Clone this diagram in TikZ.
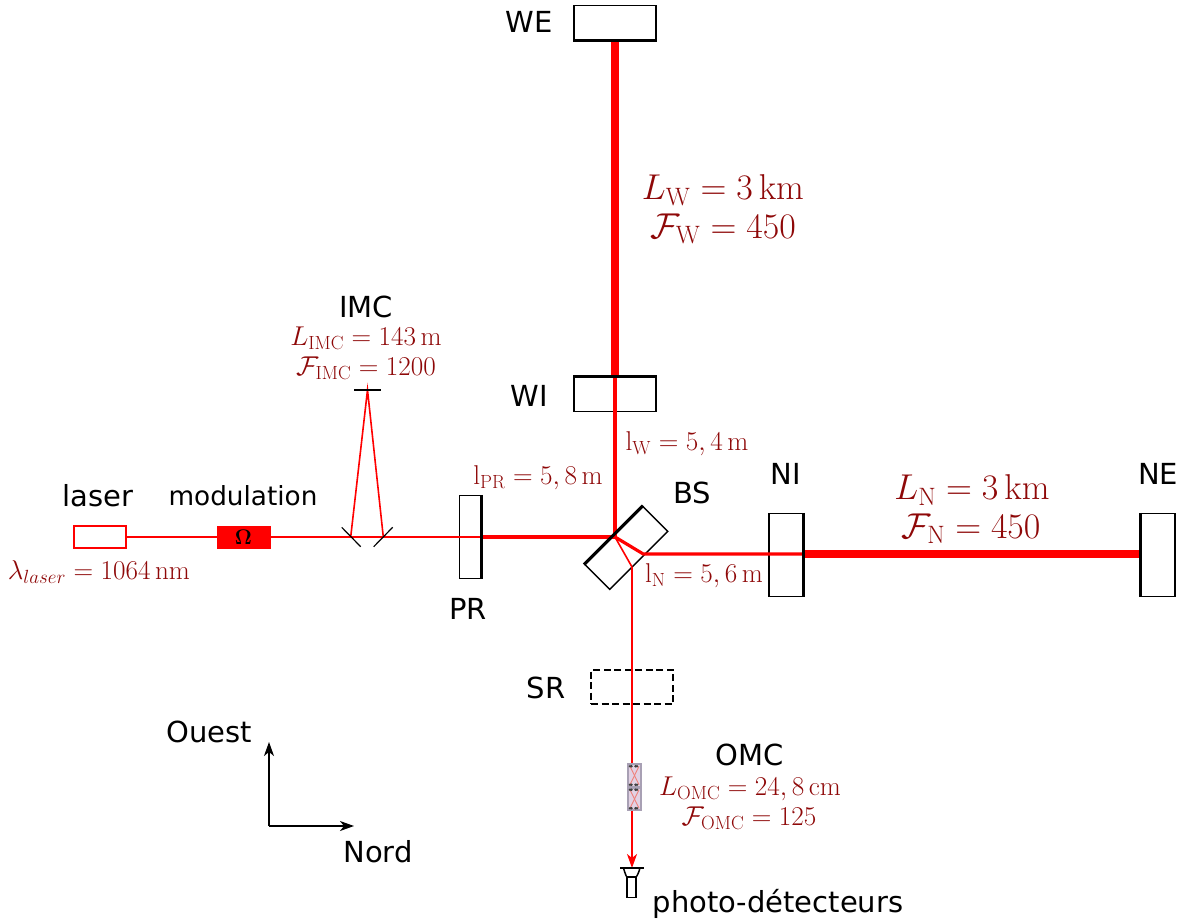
\RequirePackage{fix-cm}
\documentclass[tikz,border=0pt]{standalone}
\usepackage[no-math]{fontspec}
\usetikzlibrary{arrows.meta,calc}
\newfontfamily\djv{DejaVu Sans}
\definecolor{lab}{HTML}{8E0808}
\definecolor{omcedge}{HTML}{A8A0B4}
\definecolor{omcfill}{HTML}{E2D2E4}
\definecolor{omcx}{HTML}{F0807A}
\newcommand{\fsz}[1]{\fontsize{#1}{#1}\selectfont}
\tikzset{
  mirror/.style={draw=black,line width=1.5pt,fill=none,inner sep=0pt,minimum width=#1},
  thickside/.style={draw=black,line width=3pt},
  beamthin/.style={draw=red,line width=1.6pt},
  beammid/.style={draw=red,line width=4pt},
  beamfat/.style={draw=red,line width=7.5pt},
  sanslab/.style={font=\djv\fsz{29},text=black,inner sep=0pt},
  smallmath/.style={font=\fsz{27.2},text=lab,inner sep=0pt},
  bigmath/.style={font=\fsz{35.9},text=lab,inner sep=0pt},
  compass/.style={draw=black,line width=1.5pt,-{Stealth[length=14pt,width=10pt,inset=4pt]}},
  tinybox/.style={draw=omcedge,line width=2pt,fill=omcfill,inner sep=0pt,minimum width=13pt},
}
\begin{document}
\begin{tikzpicture}[x=1pt,y=-1pt]
\useasboundingbox (0,0) rectangle (1187,924);
% components
\node[mirror=82pt,minimum height=34pt] (we) at (615,22.5) {};
\node[mirror=82pt,minimum height=34pt] (wi) at (615,394.5) {};
\node[mirror=21pt,minimum height=83pt] (pr) at (470,537) {};
\node[mirror=34pt,minimum height=83pt] (ni) at (786,555) {};
\node[mirror=34pt,minimum height=83pt] (ne) at (1158,555) {};
\node[mirror=82pt,minimum height=35pt,rotate=45] (bs) at (626.4,548) {};
\node[draw=red,line width=1.5pt,inner sep=0pt,minimum width=52pt,minimum height=22pt] (las) at (100,537) {};
\node[fill=red,draw=red,line width=0.5pt,inner sep=0pt,minimum width=53pt,minimum height=22pt,font=\fsz{21}] (mod) at (243.5,537) {$\mathbf{\Omega}$};
\node[draw=black,dash pattern=on 7pt off 3.5pt,line width=1.3pt,inner sep=0pt,minimum width=82pt,minimum height=34pt] (sr) at (632,687) {};
% free points
\coordinate (hit) at (615,537);
\coordinate (ex1) at (643.3,554);
\coordinate (ex2) at (632,567);
\coordinate (m1) at (350.7,537);
\coordinate (m2) at (383.3,537);
\coordinate (mtop) at (367.5,390);
\coordinate (detin) at (632,868);
% beams
\draw[beamthin] (las.east) -- (mod.west);
\draw[beamthin] (mod.east) -- (pr.east);
\draw[beamthin] (m1) -- (mtop) -- (m2);
\draw[beammid] (pr.east) -- (hit);
\draw[draw=red,line width=3.2pt] (wi.north) -- (hit);
\draw[beamfat] (we.south) -- (wi.north);
\draw[draw=red,line width=3.2pt] (hit) -- (ex1) -- (ni.east |- ex1);
\draw[beamfat] (ni.east |- ex1) -- (ne.west |- ex1);
\draw[beamthin] (hit) -- (ex2);
\draw[beamthin,-{Stealth[length=14pt,width=10pt,inset=4pt]}] (ex2) -- (detin);
% mirror coatings
\draw[thickside] (we.south west) -- (we.south east);
\draw[thickside] (wi.north west) -- (wi.north east);
\draw[thickside] (pr.north east) -- (pr.south east);
\draw[thickside] (ni.north east) -- (ni.south east);
\draw[thickside] (ne.north west) -- (ne.south west);
\draw[thickside] (bs.north west) -- (bs.north east);
% IMC mirrors
\coordinate (ma1) at (341.7,527.3); \coordinate (ma2) at (360.7,546.7);
\coordinate (mb1) at (392.7,527.3); \coordinate (mb2) at (373.7,546.7);
\coordinate (mc1) at (354,390); \coordinate (mc2) at (381,390);
\draw[black,line width=1.2pt] (ma1) -- (ma2);
\draw[black,line width=1.2pt] (mb1) -- (mb2);
\draw[black,line width=1.2pt] (mc1) -- (mc2);
% OMC
\node[tinybox,minimum height=22.5pt] (omca) at (634.5,775.5) {};
\node[tinybox,minimum height=22.5pt] (omcb) at (634.5,799) {};
\draw[omcx,line width=0.9pt] ($(omca.north west)+(3,3)$) -- ($(omca.south east)+(-3,-3)$);
\draw[omcx,line width=0.9pt] ($(omca.north east)+(-3,3)$) -- ($(omca.south west)+(3,-3)$);
\draw[omcx,line width=0.9pt] ($(omcb.north west)+(3,3)$) -- ($(omcb.south east)+(-3,-3)$);
\draw[omcx,line width=0.9pt] ($(omcb.north east)+(-3,3)$) -- ($(omcb.south west)+(3,-3)$);
\foreach \n in {omca,omcb}{
  \foreach \dx in {3,4.5,8.5,10}{
    \fill[black!75] ($(\n.north west)+(\dx,3)$) circle [radius=1.4pt];
    \fill[black!75] ($(\n.south west)+(\dx,-3)$) circle [radius=1.4pt];
  }
}
% detector
\node[draw=black,line width=1.5pt,fill=white,inner sep=0pt,minimum width=9pt,minimum height=20pt] (det) at (631.5,887.5) {};
\coordinate (da) at (620,868); \coordinate (db) at (644,868);
\draw[black,line width=1.5pt] (da) -- (db);
\draw[black,line width=1.5pt] (623.5,868) .. controls (625,874) and (627,877) .. (det.north west);
\draw[black,line width=1.5pt] (640,868) .. controls (638.5,874) and (636,877) .. (det.north east);
\draw[black,line width=1.5pt] (det.north west) -- (det.north east);
% compass
\coordinate (co) at (269,826); \coordinate (cu) at (269,742); \coordinate (cr) at (354,826);
\draw[compass] (co) -- (cu);
\draw[compass] (co) -- (cr);
% labels
\node[sanslab] (lwe) at (529,22) {WE};
\node[sanslab] (lwi) at (529,396) {WI};
\node[sanslab] (llas) at (98,496) {laser};
\node[sanslab,font=\djv\fsz{26.3}] (lmod) at (243,496) {modulation};
\node[sanslab] (limc) at (366,307) {IMC};
\node[sanslab] (lbs) at (692,493) {BS};
\node[sanslab] (lni) at (786,474) {NI};
\node[sanslab] (lne) at (1158,474) {NE};
\node[sanslab] (lpr) at (468,609) {PR};
\node[sanslab] (lsr) at (546,688) {SR};
\node[sanslab] (lomc) at (750,755) {OMC};
\node[sanslab] (lou) at (209,732) {Ouest};
\node[sanslab] (lno) at (378,852) {Nord};
\node[sanslab] (lph) at (778,904) {photo-détecteurs};
\node[bigmath] (lw) at (723,190) {$L_{\mathrm{W}}=3\,\mathrm{km}$};
\node[bigmath] (fw) at (723,229) {$\mathcal{F}_{\mathrm{W}}=450$};
\node[bigmath] (ln) at (972,490) {$L_{\mathrm{N}}=3\,\mathrm{km}$};
\node[bigmath] (fn) at (971,529) {$\mathcal{F}_{\mathrm{N}}=450$};
\node[smallmath] (limcv) at (366,338) {$L_{\mathrm{IMC}}=143\,\mathrm{m}$};
\node[smallmath] (fimc) at (366,368) {$\mathcal{F}_{\mathrm{IMC}}=1200$};
\node[smallmath] (lpv) at (538,478) {$\mathrm{l}_{\mathrm{PR}}=5,8\,\mathrm{m}$};
\node[smallmath] (lwv) at (687,444) {$\mathrm{l}_{\mathrm{W}}=5,4\,\mathrm{m}$};
\node[smallmath] (lnv) at (704,576) {$\mathrm{l}_{\mathrm{N}}=5,6\,\mathrm{m}$};
\node[smallmath] (lam) at (99,572) {$\lambda_{laser}=1064\,\mathrm{nm}$};
\node[smallmath] (lomv) at (750,789) {$L_{\mathrm{OMC}}=24,8\,\mathrm{cm}$};
\node[smallmath] (fomc) at (749,818) {$\mathcal{F}_{\mathrm{OMC}}=125$};
% final red beam on top of SR
\end{tikzpicture}
\end{document}
